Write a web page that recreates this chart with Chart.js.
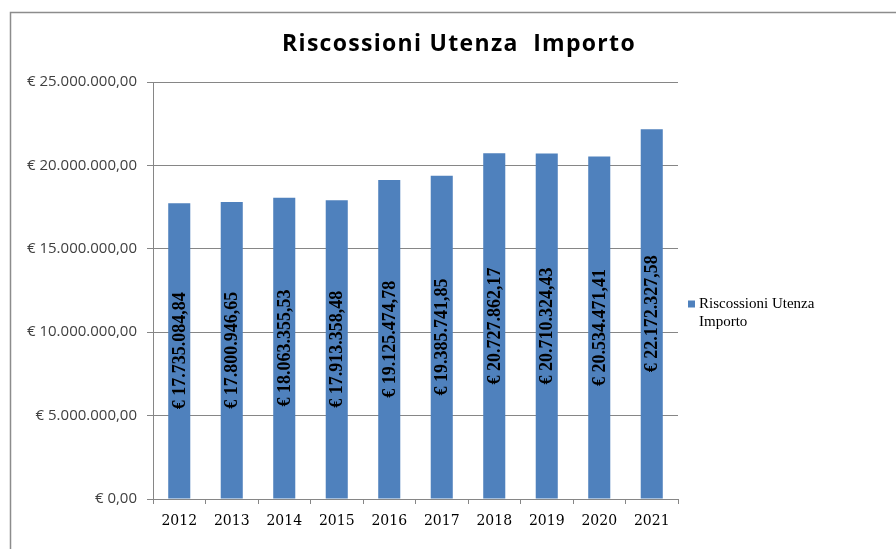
<!doctype html>
<html lang="it">
<head>
    <meta charset="UTF-8">
    <script src="https://cdn.jsdelivr.net/npm/chart.js"></script>
    <title>Riscossioni Utenza Importo</title>
    <style>
        html, body { margin: 0; padding: 0; background: #fff; }
        #wrap { width: 896px; height: 549px; }
    </style>
</head>
<body>
<div id="wrap"><canvas id="chart"></canvas></div>
<script>
const titleText = 'Riscossioni Utenza  Importo';
const seriesName = 'Riscossioni Utenza Importo';
const years = ['2012', '2013', '2014', '2015', '2016', '2017', '2018', '2019', '2020', '2021'];
const importi = [17735084.84, 17800946.65, 18063355.53, 17913358.48, 19125474.78,
                 19385741.85, 20727862.17, 20710324.43, 20534471.41, 22172327.58];
const yMax = 25000000;
const yStep = 5000000;

// 1234567.8 -> "€ 1.234.567,80"
function euro(v) {
    const [int, dec] = Math.abs(v).toFixed(2).split('.');
    return '€ ' + int.replace(/\B(?=(\d{3})+(?!\d))/g, '.') + ',' + dec;
}

const frame = {
    id: 'frame',
    beforeDraw(chart) {
        const ctx = chart.ctx;
        ctx.save();
        ctx.fillStyle = '#fff';
        ctx.fillRect(0, 0, chart.width, chart.height);
        ctx.strokeStyle = '#8c8c8c';
        ctx.lineWidth = 1.5;
        ctx.beginPath();
        ctx.moveTo(10.5, chart.height);
        ctx.lineTo(10.5, 12.5);
        ctx.lineTo(chart.width, 12.5);
        ctx.stroke();
        // title
        ctx.fillStyle = '#000';
        ctx.font = 'bold 23px "Open Sans"';
        ctx.letterSpacing = '1.3px';
        ctx.textAlign = 'center';
        ctx.textBaseline = 'middle';
        ctx.fillText(titleText, 459, 44);
        ctx.restore();
    }
};

const barLabels = {
    id: 'barLabels',
    afterDatasetsDraw(chart) {
        const ctx = chart.ctx;
        const meta = chart.getDatasetMeta(0);
        ctx.save();
        ctx.fillStyle = '#000';
        ctx.font = 'bold 18px "Liberation Serif"';
        ctx.textAlign = 'center';
        ctx.textBaseline = 'middle';
        meta.data.forEach((bar, i) => {
            ctx.save();
            ctx.translate(bar.x + 1, (bar.y + bar.base) / 2);
            ctx.rotate(-Math.PI / 2);
            ctx.fillText(euro(chart.data.datasets[0].data[i]), 0, 0);
            ctx.restore();
        });
        ctx.restore();
    }
};

const sideLegend = {
    id: 'sideLegend',
    afterDraw(chart) {
        const ctx = chart.ctx;
        const ds = chart.data.datasets[0];
        const words = ds.label.split(' ');
        const lines = [words.slice(0, 2).join(' '), words.slice(2).join(' ')];
        const x = chart.chartArea.right + 10;
        const y = 304;
        ctx.save();
        ctx.fillStyle = ds.backgroundColor;
        ctx.fillRect(x, y - 3.5, 7, 7);
        ctx.fillStyle = '#000';
        ctx.font = '15px "Liberation Serif"';
        ctx.textBaseline = 'middle';
        lines.forEach((l, i) => ctx.fillText(l, x + 11, y + i * 18));
        ctx.restore();
    }
};

new Chart(document.getElementById('chart'), {
    type: 'bar',
    data: {
        labels: years,
        datasets: [{
            label: seriesName,
            data: importi,
            backgroundColor: '#4f81bd',
            borderWidth: 0,
            barPercentage: 0.42,
            categoryPercentage: 1
        }]
    },
    options: {
        responsive: true,
        maintainAspectRatio: false,
        animation: false,
        layout: { padding: { left: 0, right: 218, top: 82, bottom: 0 } },
        plugins: {
            legend: { display: false },
            title: { display: false },
            tooltip: { enabled: false }
        },
        scales: {
            x: {
                afterFit: s => { s.height = 50; },
                grid: { display: true, drawOnChartArea: false, drawTicks: true, tickLength: 5, color: '#868686', offset: true },
                border: { color: '#868686', width: 1 },
                ticks: { color: '#000', padding: 9, font: { family: 'DejaVu Serif', size: 14 } }
            },
            y: {
                min: 0,
                max: yMax,
                afterFit: s => { s.width = 153; },
                grid: { color: '#868686', tickLength: 6 },
                border: { color: '#868686', width: 1 },
                ticks: {
                    stepSize: yStep,
                    padding: 10,
                    color: '#404040',
                    font: { family: 'Open Sans', size: 15 },
                    callback: v => euro(v)
                }
            }
        }
    },
    plugins: [frame, barLabels, sideLegend]
});
</script>
</body>
</html>
